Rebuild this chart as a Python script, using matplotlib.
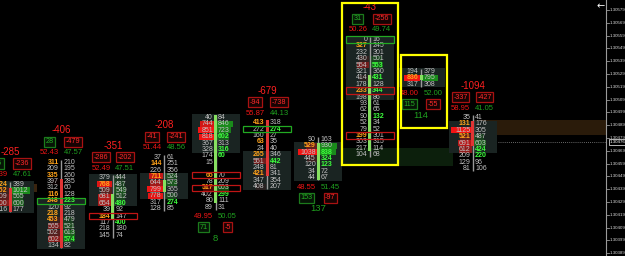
import matplotlib
matplotlib.use("Agg")
import matplotlib.pyplot as plt
from matplotlib.patches import Rectangle
import numpy as np

plt.rcParams['font.family'] = ['Liberation Sans', 'DejaVu Sans']

# ---------------- data ----------------
TICK = 0.00005
highs = [1.30443, 1.30460, 1.30448, 1.30464, 1.30495, 1.30491, 1.30478, 1.30556, 1.30531, 1.30495]

bids_A = [224, 452, 509, 600, 116]
asks_A = [389, 1012, 565, 600, 177]
bids_B = [311, 209, 335, 397, 312, 116, 248, 120, 218, 453, 565, 502, 602, 134]
asks_B = [210, 195, 260, 285, 60, 128, 223, 92, 218, 479, 521, 613, 574, 82]
bids_C = [379, 768, 509, 681, 654, 39, 184, 117, 218, 145]
asks_C = [444, 487, 549, 512, 480, 92, 147, 400, 180, 74]
bids_D = [37, 144, 226, 711, 644, 799, 778, 317, 128]
asks_D = [61, 251, 356, 524, 573, 365, 500, 274, 85]
bids_E = [40, 744, 851, 818, 367, 328, 174, 15, None, 65, 78, 517, 402, 80, 89]
asks_E = [84, 846, 723, 602, 313, 316, 60, None, None, 70, 209, 603, 299, 111, 31]
bids_F = [413, 272, 160, 63, 24, 265, 551, 248, 421, 347, 408]
asks_F = [318, 274, 27, 35, 40, 346, 442, 81, 341, 354, 207]
bids_G = [90, 529, 1038, 445, 120, 34, 44]
asks_G = [163, 930, 838, 324, 123, 72, 67]
bids_H = [0, 327, 232, 430, 554, 321, 414, 178, 233, 198, 93, 62, 90, 52, 79, 199, 303, 217, 104]
asks_H = [16, 245, 301, 501, 553, 360, 431, 128, 344, 86, 61, 65, 132, 34, 52, 301, 315, 114, 68]
bids_I = [194, 836, 317]
asks_I = [379, 795, 308]
bids_J = [35, 131, 1125, 521, 691, 612, 209, 129, 81]
asks_J = [41, 176, 305, 487, 603, 424, 220, 96, 106]

bids = [bids_A, bids_B, bids_C, bids_D, bids_E, bids_F, bids_G, bids_H, bids_I, bids_J]
asks = [asks_A, asks_B, asks_C, asks_D, asks_E, asks_F, asks_G, asks_H, asks_I, asks_J]

deltas = [-285, -406, -351, -208, 8, -679, 137, -43, 114, -1094]
left_box = [26, 28, -286, -41, 71, -94, 153, 31, 115, -337]
right_box = [-236, -479, -202, -241, -5, -738, -97, -256, -55, -427]
bid_pct = ["52.39", "52.43", "52.49", "51.44", "49.95", "55.87", "48.55", "50.26", "48.00", "58.95"]
ask_pct = ["47.61", "47.57", "47.51", "48.56", "50.05", "44.13", "51.45", "49.74", "52.00", "41.05"]
stats_below = [False, False, False, False, True, False, True, False, True, False]

orange_bids = [[0, 1], [0, 2, 5, 6, 8, 9], [1, 6], [1, 3], [9, 11], [0, 3, 5, 8], [1], [1, 8, 15], [1], [1, 3]]
green_asks = [[], [6, 12], [4, 7], [7], [3, 5, 6, 12], [1, 6], [2, 3, 4], [4, 6, 8, 12], [], [5, 6]]

body_rows = [(1, 4), (3, 13), (3, 6), (4, 5), (0, 13), (0, 8), (1, 6), (6, 17), (1, 1), (1, 4)]
body_up = [False, False, True, True, True, False, True, True, True, False]
panel_rows = [(0, 4), (6, 13), (0, 4), (3, 6), (0, 5), (5, 10), (1, 6), (0, 9), (0, 2), (1, 5)]
outlines = [(1, 6, 'g'), (2, 6, 'r'), (4, 9, 'r'), (4, 11, 'r'), (5, 1, 'g'),
            (7, 0, 'g'), (7, 8, 'r'), (7, 15, 'r')]
yellow_candles = [7, 8]

axis_labels = ["1.30579", "1.30569", "1.30559", "1.30549", "1.30539", "1.30529", "1.30519",
               "1.30509", "1.30499", "1.30489", "1.30479", "1.30469", "1.30459", "1.30449",
               "1.30439", "1.30429", "1.30419", "1.30409", "1.30399", "1.30389"]
axis_prices = [1.30579 - 0.0001 * k for k in range(len(axis_labels))]
last_price = 1.30476
last_label = "1.30476"

# zones: (x start idx, x end idx, price hi, price lo, color)
zones = [(9.0, 11.6, 1.30493, 1.30481, '#2a1b0a'),
         (6.38, 8.62, 1.30471, 1.30457, '#0c1f0c'),
         (0.2, 0.52, 1.30443, 1.30437, '#3a240f')]

# ---------------- layout ----------------
PXX = 1 / 51.4            # candle-index units per pixel
PXY = TICK / 6.4          # price units per pixel
P_TOP = 1.30579 + 10 * PXY
X0 = -10 * PXX

fig = plt.figure(figsize=(6.25, 2.56), dpi=100)
fig.patch.set_facecolor('black')
ax = fig.add_axes([0, 0, 1, 1])
ax.set_facecolor('black')
ax.set_xlim(X0, X0 + 625 * PXX)
ax.set_ylim(P_TOP - 256 * PXY, P_TOP)
ax.axis('off')

GRAY = '#c2c2c2'
ORANGE = '#ffa31a'
BGREEN = '#3dff3d'
RED = '#ff2020'
PRED = '#ee1515'
PGREEN = '#1fa01f'
RFS = 5.0

for x0, x1, ph, pl, c in zones:
    ax.add_patch(Rectangle((x0, pl), x1 - x0, ph - pl, fc=c, ec='none', zorder=0))

HALF = 24 * PXX
ROWH = TICK

for i in range(len(highs)):
    cx = i
    hi = highs[i]
    b = bids[i]
    a = asks[i]
    n = len(b)
    rows = [hi - k * TICK for k in range(n)]

    # value-area panel
    r0, r1 = panel_rows[i]
    ax.add_patch(Rectangle((cx - HALF, rows[r1] - ROWH / 2), 2 * HALF, rows[r0] - rows[r1] + ROWH,
                           fc='#1a2422', ec='none', zorder=1))
    # wick & body
    ax.plot([cx, cx], [rows[-1] - ROWH * 0.4, rows[0] + ROWH * 0.4], color='#9a9a9a', lw=1.0, zorder=2,
            solid_capstyle='butt')
    o0, o1 = body_rows[i]
    ax.add_patch(Rectangle((cx - 1.5 * PXX, rows[o1] - ROWH * 0.4), 3 * PXX, rows[o0] - rows[o1] + ROWH * 0.8,
                           fc='#86e060' if body_up[i] else '#e03535', ec='none', zorder=3))

    for k in range(n):
        y = rows[k]
        bv, av = b[k], a[k]
        if bv is not None:
            al = np.clip((bv - 380) / 450, 0, 0.95)
            if al > 0:
                w = (3 + bv * 0.016) * PXX
                ax.add_patch(Rectangle((cx - 1 * PXX - w, y - ROWH * 0.48), w, ROWH * 0.96,
                                       fc=(1, 0.08, 0.08, al), ec='none', zorder=2.5))
            col = ORANGE if k in orange_bids[i] else GRAY
            ax.text(cx - 2.5 * PXX, y, str(bv), ha='right', va='center', fontsize=RFS,
                    color=col, zorder=5, fontweight='bold' if col == ORANGE else 'normal')
        if av is not None:
            al = np.clip((av - 380) / 450, 0, 0.85)
            if al > 0:
                w = (3 + av * 0.016) * PXX
                ax.add_patch(Rectangle((cx + 1 * PXX, y - ROWH * 0.48), w, ROWH * 0.96,
                                       fc=(0.1, 0.62, 0.1, al), ec='none', zorder=2.5))
            isg = k in green_asks[i]
            ax.text(cx + 2.5 * PXX, y, str(av), ha='left', va='center', fontsize=RFS,
                    color=BGREEN if isg else GRAY, zorder=5,
                    fontweight='bold' if isg else 'normal')

    # stats block
    def box(x, y, v):
        pos = v > 0
        ax.text(x, y, str(v), ha='center', va='center', fontsize=5.2,
                color='#25b025' if pos else '#ff2a2a', zorder=6,
                bbox=dict(boxstyle='square,pad=0.22', fc='#061406' if pos else '#160303',
                          ec='#1c7a1c' if pos else '#a81212', lw=0.9))

    if stats_below[i]:
        yb = rows[-1]
        ax.text(cx - 12 * PXX, yb - 9.5 * PXY, bid_pct[i], ha='center', va='center', fontsize=5.5, color=PRED)
        ax.text(cx + 12 * PXX, yb - 9.5 * PXY, ask_pct[i], ha='center', va='center', fontsize=5.5, color=PGREEN)
        box(cx - 12 * PXX, yb - 20 * PXY, left_box[i])
        box(cx + 12 * PXX, yb - 20 * PXY, right_box[i])
        ax.text(cx, yb - 31 * PXY, str(deltas[i]), ha='center', va='center', fontsize=6.8,
                color=PGREEN if deltas[i] > 0 else RED)
    else:
        yt = rows[0]
        ax.text(cx - 12 * PXX, yt + 9.5 * PXY, bid_pct[i], ha='center', va='center', fontsize=5.5, color=PRED)
        ax.text(cx + 12 * PXX, yt + 9.5 * PXY, ask_pct[i], ha='center', va='center', fontsize=5.5, color=PGREEN)
        box(cx - 12 * PXX, yt + 20.5 * PXY, left_box[i])
        box(cx + 12 * PXX, yt + 20.5 * PXY, right_box[i])
        ax.text(cx, yt + 32 * PXY, str(deltas[i]), ha='center', va='center', fontsize=7.0,
                color=PGREEN if deltas[i] > 0 else RED)

# outlined rows
for ci, k, c in outlines:
    y = highs[ci] - k * TICK
    ax.add_patch(Rectangle((ci - HALF, y - ROWH * 0.5), 2 * HALF, ROWH,
                           fc='none', ec='#22aa22' if c == 'g' else '#c01515', lw=0.9, zorder=6))

# yellow highlight boxes
for ci in yellow_candles:
    n = len(bids[ci])
    top = highs[ci] + (36 if not stats_below[ci] else 16) * PXY
    bot = highs[ci] - (n - 1) * TICK - (10 if not stats_below[ci] else 44) * PXY
    ax.add_patch(Rectangle((ci - 27.5 * PXX if ci == 7 else ci - 20 * PXX, bot),
                           (56 if ci == 7 else 46) * PXX, top - bot,
                           fc='none', ec='#ffff00', lw=1.6, zorder=7))

# price axis
AXX = X0 + 606 * PXX
ax.plot([AXX, AXX], [P_TOP - 256 * PXY, P_TOP], color='#9a9a9a', lw=0.8, zorder=8)
for p, lab in zip(axis_prices, axis_labels):
    ax.plot([AXX, AXX + 3 * PXX], [p, p], color='#9a9a9a', lw=0.6, zorder=8)
    ax.text(AXX + 4 * PXX, p, lab, ha='left', va='center', fontsize=3.2, color='#d8d8d8', zorder=8)

# last price line & label
ax.plot([9 + 25 * PXX, AXX], [last_price, last_price], color='#8a8a8a', lw=0.6,
        ls=(0, (1, 1.5)), zorder=4)
ax.text(AXX + 4 * PXX, last_price, last_label, ha='left', va='center', fontsize=3.2, color='white',
        zorder=9, bbox=dict(boxstyle='square,pad=0.15', fc='black', ec='white', lw=0.5))

ax.text(X0 + 601 * PXX, P_TOP - 6 * PXY, '\u2190', ha='center', va='center', fontsize=7,
        color='white', fontfamily='DejaVu Sans')

fig.savefig('out.png', dpi=100, facecolor='black')
